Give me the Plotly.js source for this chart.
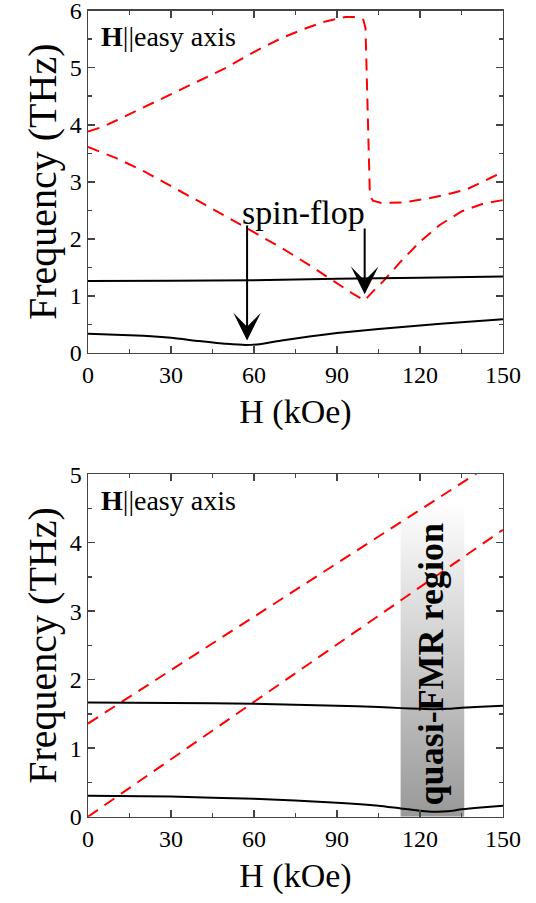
<!DOCTYPE html>
<html>
<head>
<meta charset="utf-8">
<script src="https://cdn.plot.ly/plotly-3.0.1.min.js"></script>
<style>
html,body{margin:0;padding:0;background:#fff;}
#chart{width:536px;height:903px;}
</style>
</head>
<body>
<div id="chart"></div>
<script>
// ---------- Top panel data ----------
const topUpperRedH = [0,5,10,20,30,40,50,56,62.5,70,77.6,85,90,93,97,99.5,100.3,101.9,103,106,114,122,129,137,146,150];
const topUpperRedF = [3.88,3.96,4.07,4.30,4.53,4.76,5.00,5.17,5.34,5.52,5.67,5.80,5.86,5.89,5.89,5.84,5.70,2.75,2.67,2.63,2.64,2.70,2.77,2.87,3.08,3.17];
const topLowerRedH = [0,10,20,30,40,50,60,70,80,90,96,100,103,106.6,113,120,127,135,143,150];
const topLowerRedF = [3.61,3.42,3.19,2.93,2.66,2.39,2.11,1.84,1.54,1.22,1.03,0.92,1.08,1.25,1.60,1.95,2.24,2.48,2.62,2.68];
const topUpperBlackH = [0,30,60,90,120,150];
const topUpperBlackF = [1.26,1.265,1.275,1.30,1.32,1.34];
const topLowerBlackH = [0,10,20,30,40,50,57,62,70,80,90,105,120,135,150];
const topLowerBlackF = [0.335,0.32,0.30,0.265,0.21,0.16,0.14,0.155,0.22,0.29,0.35,0.42,0.48,0.54,0.59];

// ---------- Bottom panel data ----------
const botRedAH = [0,150];
const botRedAF = [1.36,5.26];
const botRedBH = [0,150];
const botRedBF = [0,4.19];
const botUpperBlackH = [0,30,60,90,105,113,120,125,130,135,142,150];
const botUpperBlackF = [1.668,1.66,1.65,1.62,1.60,1.585,1.575,1.57,1.575,1.59,1.605,1.62];
const botLowerBlackH = [0,30,60,90,105,113,120,125,130,135,142,150];
const botLowerBlackF = [0.307,0.293,0.26,0.205,0.16,0.12,0.088,0.073,0.078,0.107,0.135,0.16];
const fmrRegionH = [113,136];
const fmrRegionTop = 4.6;

// arrows (spin-flop)
const arrowH = [57.5,100];
const arrowHeadF = [0.22,1.03];
const arrowTailF = [2.26,2.21];

const FONT = 'Liberation Serif';
const red = {color:'#ff0000', width:2, dash:'12px,8px'};
const blk = {color:'#000', width:2, shape:'spline', smoothing:0.5};

const traces = [
  {x:[fmrRegionH[0],fmrRegionH[1],fmrRegionH[1],fmrRegionH[0],fmrRegionH[0]],
   y:[0,0,fmrRegionTop,fmrRegionTop,0], xaxis:'x2', yaxis:'y2', mode:'lines',
   line:{width:0}, fill:'toself',
   fillgradient:{type:'vertical', colorscale:[[0,'#999999'],[1,'#ffffff']]},
   hoverinfo:'skip'},
  {x:topUpperRedH, y:topUpperRedF, mode:'lines', line:red, xaxis:'x', yaxis:'y'},
  {x:topLowerRedH, y:topLowerRedF, mode:'lines', line:red, xaxis:'x', yaxis:'y'},
  {x:topUpperBlackH, y:topUpperBlackF, mode:'lines', line:blk, xaxis:'x', yaxis:'y'},
  {x:topLowerBlackH, y:topLowerBlackF, mode:'lines', line:blk, xaxis:'x', yaxis:'y'},
  {x:botRedAH, y:botRedAF, mode:'lines', line:red, xaxis:'x2', yaxis:'y2'},
  {x:botRedBH, y:botRedBF, mode:'lines', line:red, xaxis:'x2', yaxis:'y2'},
  {x:botUpperBlackH, y:botUpperBlackF, mode:'lines', line:blk, xaxis:'x2', yaxis:'y2'},
  {x:botLowerBlackH, y:botLowerBlackF, mode:'lines', line:blk, xaxis:'x2', yaxis:'y2'}
];

function xax(anchor){
  return {domain:[0.1642,0.9384], anchor:anchor, range:[0,150], tick0:0, dtick:30,
    ticks:'inside', ticklen:7, tickwidth:1.5, tickcolor:'#444',
    minor:{dtick:15, ticks:'inside', ticklen:4, tickwidth:1.5, tickcolor:'#444'},
    showline:true, linecolor:'#444', linewidth:1.5, mirror:'allticks',
    showgrid:false, zeroline:false, ticklabeloverflow:'allow',
    tickfont:{family:FONT, size:24, color:'#000'},
    title:{text:'H (kOe)', font:{family:FONT, size:34, color:'#000'}, standoff:12}};
}
function yax(anchor, dom, maxv){
  return {domain:dom, anchor:anchor, range:[0,maxv], tick0:0, dtick:1,
    ticks:'inside', ticklen:7, tickwidth:1.5, tickcolor:'#444',
    minor:{dtick:0.5, ticks:'inside', ticklen:4, tickwidth:1.5, tickcolor:'#444'},
    showline:true, linecolor:'#444', linewidth:1.5, mirror:'allticks',
    showgrid:false, zeroline:false, ticklabeloverflow:'allow',
    tickfont:{family:FONT, size:24, color:'#000'},
    title:{text:'Frequency (THz)', font:{family:FONT, size:40, color:'#000'}, standoff:0}};
}

const ann = [
  {xref:'x', yref:'y', x:4, y:5.55, xanchor:'left', yanchor:'middle', showarrow:false,
   text:'<b>H</b>||easy axis', font:{family:FONT, size:28, color:'#000'}},
  {xref:'x', yref:'y', x:78, y:2.47, showarrow:false, text:'spin-flop',
   font:{family:FONT, size:34, color:'#000'}},
  {xref:'x2', yref:'y2', x:4, y:4.62, xanchor:'left', yanchor:'middle', showarrow:false,
   text:'<b>H</b>||easy axis', font:{family:FONT, size:28, color:'#000'}},
  {xref:'x2', yref:'y2', x:123.9, y:2.22, showarrow:false, textangle:-90,
   text:'<b>quasi-FMR region</b>', font:{family:FONT, size:36, color:'#000'}}
];
for (let i=0;i<arrowH.length;i++){
  ann.push({xref:'x', yref:'y', x:arrowH[i], y:arrowHeadF[i], axref:'x', ayref:'y',
    ax:arrowH[i], ay:arrowTailF[i], text:'', showarrow:true, arrowhead:3,
    arrowsize:2.3, arrowwidth:2, arrowcolor:'#000', standoff:0, startstandoff:0});
}

const layout = {
  width:536, height:903, margin:{l:0,r:0,t:0,b:0},
  paper_bgcolor:'#fff', plot_bgcolor:'#fff', showlegend:false,
  font:{family:FONT, color:'#000'},
  xaxis:xax('y'), yaxis:yax('x',[0.6091,0.9882],6),
  xaxis2:xax('y2'), yaxis2:yax('x2',[0.0956,0.4748],5),
  annotations:ann
};

Plotly.newPlot('chart', traces, layout, {staticPlot:true, displayModeBar:false});
</script>
</body>
</html>
